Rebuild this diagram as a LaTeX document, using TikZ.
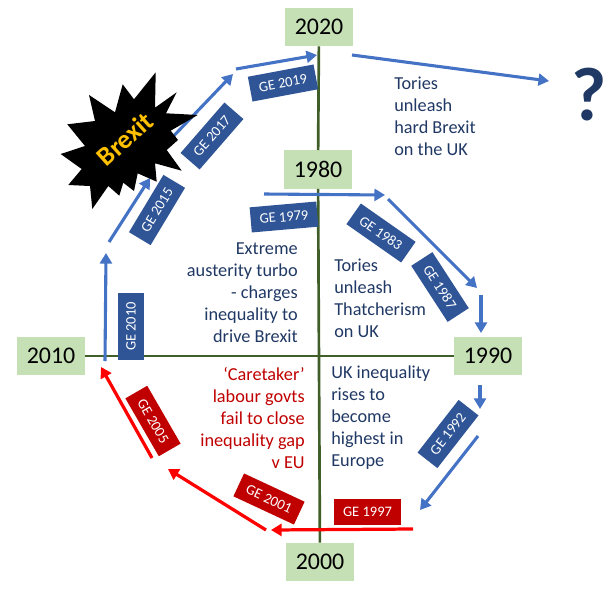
\documentclass[tikz,border=0pt]{standalone}
\usepackage{fontspec}
\setmainfont{Carlito}
\usepackage{tikz}
\usetikzlibrary{arrows.meta,calc,positioning}
\usepackage{xcolor}
\definecolor{axisgreen}{HTML}{3F5E28}
\definecolor{yeargreen}{HTML}{C5E0B4}
\definecolor{arrowblue}{HTML}{4472C4}
\definecolor{geblue}{HTML}{2F5597}
\definecolor{textnavy}{HTML}{203864}
\definecolor{gered}{HTML}{C00000}
\definecolor{arrowred}{HTML}{FF0000}
\definecolor{brexitgold}{HTML}{FFC000}

\begin{document}
\begin{tikzpicture}[x=0.025cm, y=-0.025cm,
  yearbox/.style={fill=yeargreen, minimum width=1.7cm, minimum height=0.95cm, inner sep=0pt, font=\fontsize{17}{20}\selectfont},
  gebox/.style={fill=geblue, text=white, minimum width=1.67cm, minimum height=0.63cm, inner sep=0pt, font=\fontsize{10.3}{12}\selectfont},
  redbox/.style={gebox, fill=gered},
  axisline/.style={draw=axisgreen, line width=1.9pt},
  bluearrow/.style={draw=arrowblue, line width=2.2pt, -{Triangle[length=7.5pt,width=8.5pt]}},
  redarrow/.style={draw=arrowred, line width=2.3pt, -{Triangle[length=7.5pt,width=8.5pt]}},
  bluetext/.style={text=textnavy, inner sep=0pt, align=left, anchor=west, font=\fontsize{13}{15.6}\selectfont},
  redtext/.style={text=gered, inner sep=0pt, align=right, anchor=east, font=\fontsize{13}{15.6}\selectfont}]

\useasboundingbox (0,0) rectangle (616,592);

% Anni
\node[yearbox] (y2020) at (319,27) {2020};
\node[yearbox] (y1980) at (318,169.5) {1980};
\node[yearbox] (y2010) at (51,356) {2010};
\node[yearbox] (y1990) at (488,356) {1990};
\node[yearbox] (y2000) at (320,562) {2000};
\draw[axisline] (y2020) -- (y1980);
\draw[axisline] (y1980) -- (y2000);
\draw[axisline] (y2010) -- (y1990);

% Frecce blu
\coordinate (a1) at (105,361);  \coordinate (a2) at (106,253);
\coordinate (b1) at (109,242);  \coordinate (b2) at (150,178);
\coordinate (c1) at (165,145);  \coordinate (c2) at (233,74);
\coordinate (d1) at (236,69);   \coordinate (d2) at (317,55);
\coordinate (e1) at (352,55);   \coordinate (e2) at (549,81);
\coordinate (f1) at (264,194);  \coordinate (f2) at (385,195);
\coordinate (g1) at (388,199);  \coordinate (g2) at (477,288);
\coordinate (h1) at (481,295);  \coordinate (h2) at (481,333);
\coordinate (i1) at (480,385);  \coordinate (i2) at (480,409);
\coordinate (j1) at (478,436);  \coordinate (j2) at (420,510);
\foreach \from/\to in {a1/a2,b1/b2,c1/c2,d1/d2,e1/e2,f1/f2,g1/g2,h1/h2,i1/i2,j1/j2}
  \draw[bluearrow] (\from) -- (\to);

% Frecce rosse
\coordinate (k1) at (413,529);  \coordinate (k2) at (271,530);
\coordinate (l1) at (266,530);  \coordinate (l2) at (168,469);
\coordinate (m1) at (152,458);  \coordinate (m2) at (101,367);
\foreach \from/\to in {k1/k2,l1/l2,m1/m2}
  \draw[redarrow] (\from) -- (\to);

% Elezioni
\node[gebox, rotate=10.6] (ge2019) at (283,83) {GE 2019};
\node[gebox, rotate=49] (ge2017) at (212,136) {GE 2017};
\node[gebox, rotate=59] (ge2015) at (157,210) {GE 2015};
\node[gebox, rotate=5] (ge1979) at (284,217) {GE 1979};
\node[gebox, rotate=-35] (ge1983) at (381,233) {GE 1983};
\node[gebox, rotate=-57] (ge1987) at (440,287) {GE 1987};
\node[gebox, rotate=90] (ge2010) at (131,326.5) {GE 2010};
\node[gebox, rotate=52] (ge1992) at (448,434) {GE 1992};
\node[redbox] (ge1997) at (367.5,512) {GE 1997};
\node[redbox, rotate=-25] (ge2001) at (269,499) {GE 2001};
\node[redbox, rotate=-60] (ge2005) at (153,421) {GE 2005};

% Brexit
\fill[black] (155.7,72.3) -- (155,107.7) -- (176.7,92.3) -- (166,113.3) -- (197.7,115)
  -- (170.7,130.7) -- (178,140) -- (166.7,150) -- (181.7,170.7) -- (155,163.3)
  -- (156.7,181.7) -- (137.7,173.3) -- (134,191) -- (123.3,182.7) -- (119.3,195.7)
  -- (108.3,186) -- (92.3,209) -- (90,186) -- (68.3,185) -- (81.7,169) -- (60.7,154)
  -- (85,146) -- (67.3,124.3) -- (95,121) -- (89,95) -- (115,112.3) -- (122.7,84.3)
  -- (134,99.3) -- cycle;
\node[text=brexitgold, rotate=42, inner sep=0pt, font=\fontsize{19}{21}\selectfont\bfseries] (brexit) at (125,139) {Brexit};

% Testi
\node[bluetext] (hard) at (394,116) {Tories\\unleash\\hard Brexit\\on the UK};
\node[bluetext, anchor=east, align=right] (turbo) at (298,292.5) {Extreme\\austerity turbo\\- charges\\inequality to\\drive Brexit};
\node[bluetext] (thatcher) at (334,298) {Tories\\unleash\\Thatcherism\\on UK};
\node[bluetext] (rises) at (331,417.5) {UK inequality\\rises to\\become\\highest in\\Europe};
\node[redtext] (caretaker) at (305,418) {‘Caretaker’\\labour govts\\fail to close\\inequality gap\\v EU};
\node[text=textnavy, inner sep=0pt, font=\fontsize{54}{60}\selectfont\bfseries] (unknown) at (589,95) {?};

\end{tikzpicture}
\end{document}
